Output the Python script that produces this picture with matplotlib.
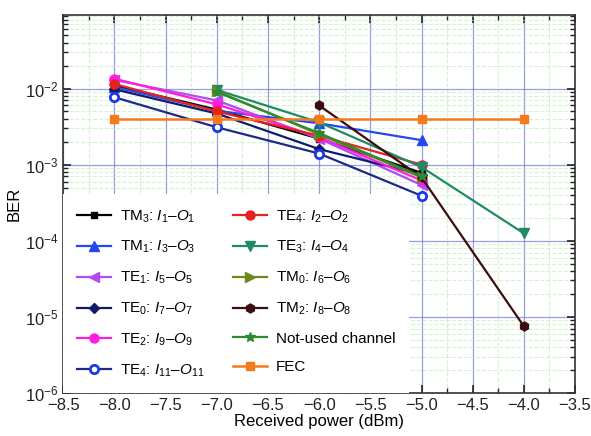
import matplotlib
matplotlib.use("Agg")
import matplotlib.pyplot as plt
from matplotlib.ticker import MultipleLocator, LogLocator, NullFormatter, FuncFormatter

plt.rcParams['font.family'] = ['Liberation Sans', 'DejaVu Sans']
plt.rcParams['mathtext.fontset'] = 'custom'
plt.rcParams['mathtext.rm'] = 'Liberation Sans'
plt.rcParams['mathtext.it'] = 'Liberation Sans:italic'

# received power (dBm)
p4 = [-8.0, -7.0, -6.0, -5.0]

tm3_1 = [1.1e-2, 5.3e-3, 2.2e-3, 7.8e-4]
tm1_3 = [1.05e-2, 5.1e-3, 3.5e-3, 2.1e-3]
te1_5 = [1.3e-2, 7.0e-3, 2.2e-3, 5.4e-4]
te0_7 = [9.8e-3, 4.7e-3, 1.6e-3, 7.4e-4]
te2_9 = [1.35e-2, 6.2e-3, 2.3e-3, 6.2e-4]
te4_11 = [7.7e-3, 3.1e-3, 1.4e-3, 3.9e-4]
te4_2 = [1.15e-2, 5.0e-3, 2.4e-3, 1.0e-3]

p_te3 = [-7.0, -6.0, -5.0, -4.0]
te3_4 = [9.6e-3, 3.6e-3, 9.3e-4, 1.25e-4]

p_tm0 = [-7.0, -6.0, -5.0]
tm0_6 = [9.3e-3, 2.5e-3, 6.8e-4]

p_tm2 = [-6.0, -5.0, -4.0]
tm2_8 = [6.0e-3, 6.8e-4, 7.5e-6]

p_nu = [-7.0, -6.0, -5.0]
not_used = [9.0e-3, 2.6e-3, 7.0e-4]

p_fec = [-8.0, -7.0, -6.0, -5.0, -4.0]
fec = [4e-3] * 5

fig = plt.figure(figsize=(5.91, 4.36), dpi=100)
ax = fig.add_axes([0.107, 0.099, 0.866, 0.867])

kw = dict(lw=1.6, ms=6.5)
h1, = ax.plot(p4, tm3_1, color='black', marker='s', ms=5, lw=1.6, label=r'TM$_3$: $I_1$–$O_1$')
h2, = ax.plot(p4, tm1_3, color='#2448f0', marker='^', label=r'TM$_1$: $I_3$–$O_3$', **kw)
h3, = ax.plot(p4, te1_5, color='#b04cf5', marker='<', label=r'TE$_1$: $I_5$–$O_5$', **kw)
h4, = ax.plot(p4, te0_7, color='#101c6a', marker='D', ms=5.5, lw=1.6, label=r'TE$_0$: $I_7$–$O_7$')
h5, = ax.plot(p4, te2_9, color='#ff1ee0', marker='o', label=r'TE$_2$: $I_9$–$O_9$', **kw)
h6, = ax.plot(p4, te4_11, color='#1c2a8a', marker='o', mfc='white', mec='#1a3ae8', mew=2,
              ms=6, lw=1.6, label=r'TE$_4$: $I_{11}$–$O_{11}$')
h7, = ax.plot(p4, te4_2, color='#e5221e', marker='o', label=r'TE$_4$: $I_2$–$O_2$', **kw)
h8, = ax.plot(p_te3, te3_4, color='#1f8a66', marker='v', label=r'TE$_3$: $I_4$–$O_4$', **kw)
h9, = ax.plot(p_tm0, tm0_6, color='#6b8a1a', marker='>', label=r'TM$_0$: $I_6$–$O_6$', **kw)
h10, = ax.plot(p_tm2, tm2_8, color='#3c0c10', marker='h', label=r'TM$_2$: $I_8$–$O_8$', **kw)
h11, = ax.plot(p_nu, not_used, color='#2e8a30', marker='*', ms=7, lw=1.6, label='Not-used channel')
h12, = ax.plot(p_fec, fec, color='#f47a1c', marker='s', ms=6, lw=1.8, label='FEC')

ax.set_yscale('log')
ax.set_xlim(-8.5, -3.5)
ax.set_ylim(1e-6, 10 ** -1.03)
ax.xaxis.set_major_locator(MultipleLocator(0.5))
ax.xaxis.set_minor_locator(MultipleLocator(0.25))
ax.yaxis.set_major_locator(LogLocator(base=10, numticks=10))
ax.yaxis.set_minor_locator(LogLocator(base=10, subs=range(2, 10), numticks=20))
ax.yaxis.set_minor_formatter(NullFormatter())
ax.xaxis.set_major_formatter(FuncFormatter(lambda v, _: f"{v:.1f}".replace('-', '\u2212')))

ax.tick_params(which='both', direction='in', top=True, right=True, colors='#222222', labelsize=12)
ax.tick_params(which='major', length=6, width=1.2)
ax.tick_params(which='minor', length=3.5, width=1)
for s in ax.spines.values():
    s.set_linewidth(1.2)
    s.set_color('#333333')

ax.grid(True, which='major', color='#7a7ad8', lw=0.9, alpha=0.75)
ax.grid(True, which='minor', color='#b8ecb0', lw=0.8, ls='--', alpha=0.6)
ax.set_axisbelow(True)

ax.set_xlabel('Received power (dBm)', fontsize=12, labelpad=1)
ax.set_ylabel('BER', fontsize=12, labelpad=2)

leg = ax.legend(handles=[h1, h2, h3, h4, h5, h6, h7, h8, h9, h10, h11, h12],
                loc='lower left', ncol=2, fontsize=11, frameon=True, framealpha=1,
                facecolor='white', edgecolor='white', fancybox=False,
                handlelength=2.2, labelspacing=0.95, columnspacing=1.9,
                borderaxespad=0.0, borderpad=0.9, handletextpad=0.6)
leg.get_frame().set_linewidth(0)

fig.savefig('out.png', dpi=100)
